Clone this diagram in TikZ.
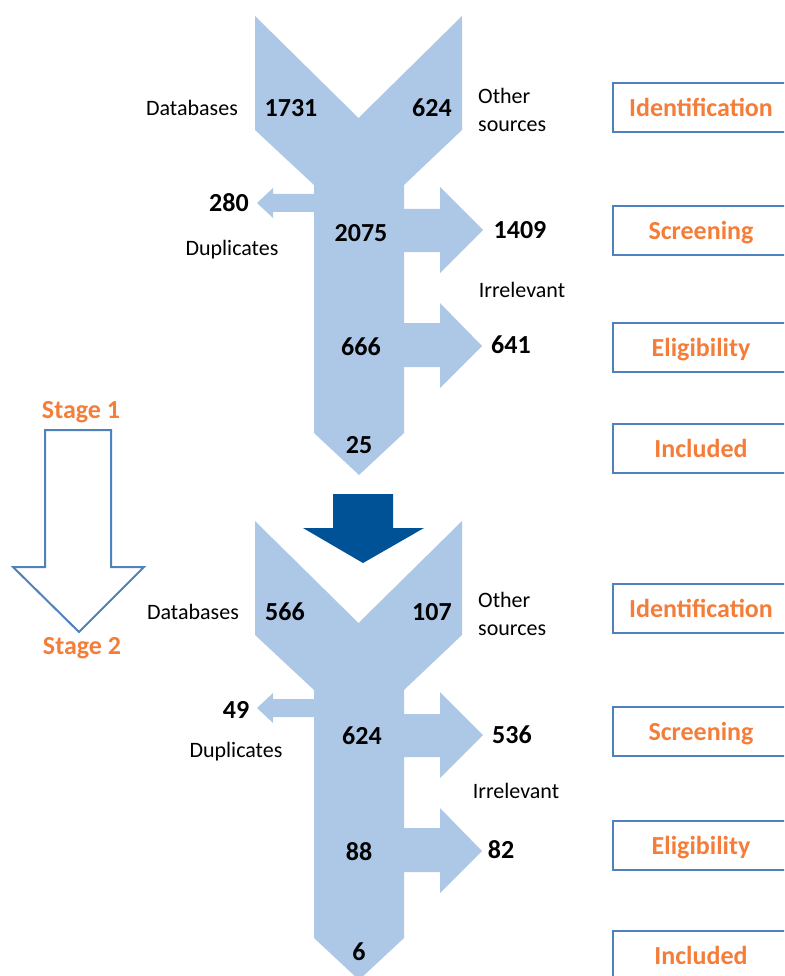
\documentclass[tikz,border=0pt]{standalone}
\usepackage{fontspec}
\setmainfont{Carlito}
\definecolor{flowblue}{RGB}{173,200,230}
\definecolor{deepblue}{RGB}{0,82,150}
\definecolor{boxblue}{RGB}{79,129,189}
\definecolor{phaseorange}{RGB}{244,125,58}

% outline of one screening funnel (two inputs, one exit left, two exits right)
\newcommand{\funnelpath}{%
  (255,16) -- (358.5,118) -- (462,16) -- (462,130) -- (404,185) --
  (404,209) -- (440,209) -- (440,187) -- (483,230) -- (440,273) -- (440,252) --
  (404,252) -- (404,323) -- (440,323) -- (440,303) -- (482,346) -- (440,388) --
  (440,367) -- (404,367) -- (404,433) -- (359,475) -- (314,433) --
  (314,212) -- (273,212) -- (273,218) -- (257,203) -- (273,188) -- (273,194) --
  (314,194) -- (314,185) -- (255,130) -- cycle}

\begin{document}
\begin{tikzpicture}[x=1pt,y=-1pt,
  numtxt/.style={font=\fontsize{26}{30}\selectfont\bfseries, inner sep=0pt, text depth=0pt},
  labtxt/.style={font=\fontsize{22}{28}\selectfont, inner sep=0pt, text depth=0pt},
  stagetxt/.style={font=\fontsize{26}{30}\selectfont\bfseries, text=phaseorange, inner sep=0pt, text depth=0pt},
  phasebox/.style={draw=boxblue, line width=2pt, minimum width=176pt, minimum height=49pt,
    anchor=west, text=phaseorange, font=\fontsize{26}{30}\selectfont\bfseries,
    inner sep=0pt, text depth=0pt},
  funnel/.style={fill=flowblue},
  stagearrow/.style={draw=boxblue, line width=2pt, fill=white, line join=miter},
  passarrow/.style={fill=deepblue}]

\useasboundingbox (0,0) rectangle (784,976);
\clip (0,0) rectangle (784,976);

% ---- stage 1 funnel ----
\fill[funnel] \funnelpath;
\node[labtxt] (db1) at (192,108) {Databases};
\node[numtxt] (n1731) at (291,108) {1731};
\node[numtxt] (n624a) at (432,108) {624};
\node[labtxt, anchor=west, align=left] (os1) at (478,110) {Other\\sources};
\node[numtxt] (n280) at (229,203) {280};
\node[labtxt] (dup1) at (232,248) {Duplicates};
\node[numtxt] (n2075) at (361,233) {2075};
\node[numtxt] (n1409) at (520,230) {1409};
\node[labtxt] (irr1) at (522,290) {Irrelevant};
\node[numtxt] (n666) at (361,347) {666};
\node[numtxt] (n641) at (511,345) {641};
\node[numtxt] (n25) at (359,445) {25};

% ---- hand-over between the stages ----
\fill[passarrow] (333,494) -- (393,494) -- (393,528) -- (424,528) -- (363,563) -- (303,528) -- (333,528) -- cycle;

% ---- stage 2 funnel ----
\begin{scope}[shift={(0,505)}]
\fill[funnel] \funnelpath;
\end{scope}
\node[labtxt] (db2) at (193,612) {Databases};
\node[numtxt] (n566) at (285,612) {566};
\node[numtxt] (n107) at (432,612) {107};
\node[labtxt, anchor=west, align=left] (os2) at (478,614) {Other\\sources};
\node[numtxt] (n49) at (236,710) {49};
\node[labtxt] (dup2) at (236,750) {Duplicates};
\node[numtxt] (n624b) at (362,736) {624};
\node[numtxt] (n536) at (512,735) {536};
\node[labtxt] (irr2) at (516,791) {Irrelevant};
\node[numtxt] (n88) at (359,852) {88};
\node[numtxt] (n82) at (501,850) {82};
\node[numtxt] (n6) at (359,952) {6};

% ---- stage indicator ----
\draw[stagearrow] (45,430) -- (45,567) -- (13,567) -- (79,632) -- (144,567) -- (111,567) -- (111,430) -- cycle;
\node[stagetxt] (st1) at (81,410) {Stage 1};
\node[stagetxt] (st2) at (82,646) {Stage 2};

% ---- phase labels ----
\node[phasebox] (id1) at (612,107.5) {Identification};
\node[phasebox] (sc1) at (612,230.5) {Screening};
\node[phasebox] (el1) at (612,347.5) {Eligibility};
\node[phasebox] (in1) at (612,448.5) {Included};
\node[phasebox] (id2) at (612,608.5) {Identification};
\node[phasebox] (sc2) at (612,731.5) {Screening};
\node[phasebox] (el2) at (612,845.5) {Eligibility};
\node[phasebox] (in2) at (612,955.5) {Included};
\end{tikzpicture}
\end{document}
